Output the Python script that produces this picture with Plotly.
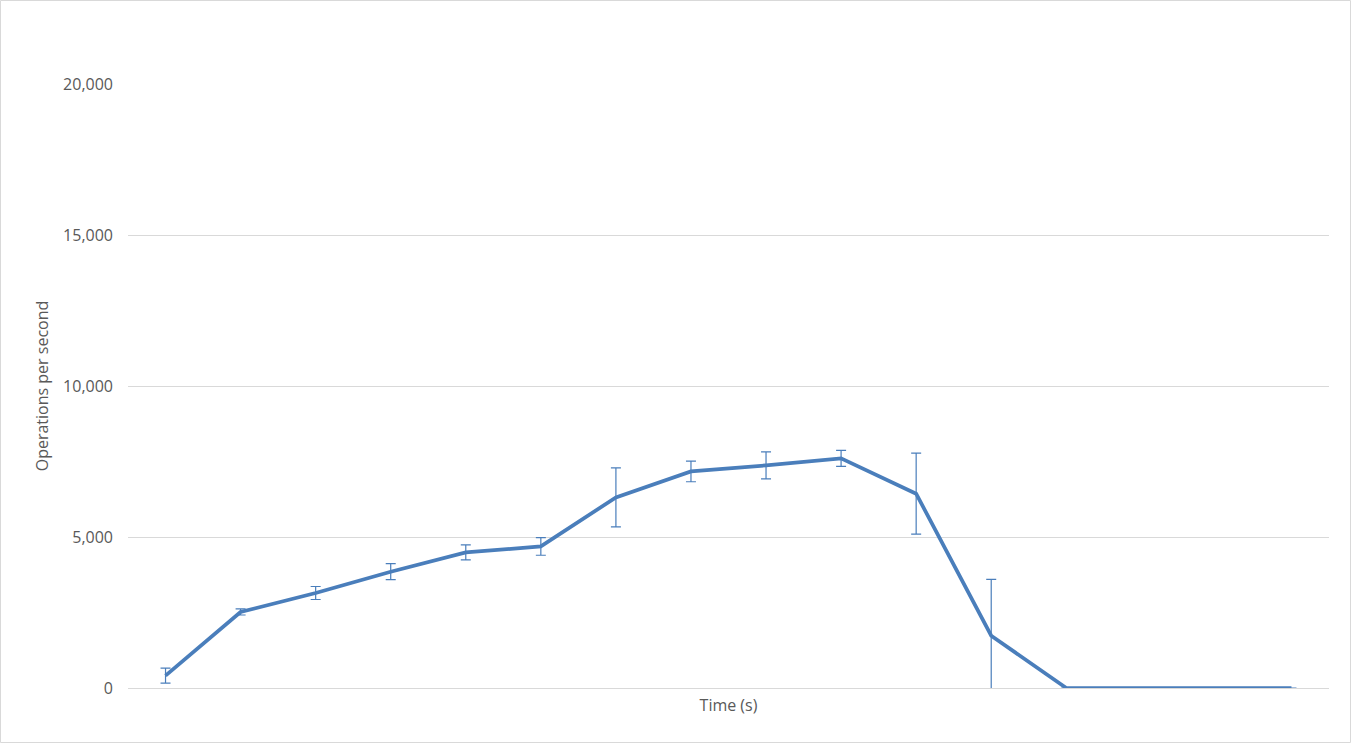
import plotly.graph_objects as go

# Data
time_s = [1, 2, 3, 4, 5, 6, 7, 8, 9, 10, 11, 12, 13, 14, 15, 16]
ops_per_sec = [410, 2517, 3146, 3851, 4490, 4689, 6311, 7172, 7371, 7603, 6434, 1732, 0, 0, 0, 0]
ops_err = [250, 100, 215, 265, 248, 293, 977, 342, 447, 265, 1341, 1864, 0, 0, 0, 0]
y_ticks = [0, 5000, 10000, 15000, 20000]

BLUE = "#4A7EBB"
GRID = "#D9D9D9"
TEXT = "#595959"

W, H = 1352, 744
ml, mr, mt, mb = 128, 23, 84, 56

fig = go.Figure()
fig.add_trace(go.Scatter(
    x=time_s, y=ops_per_sec, mode="lines",
    line=dict(color=BLUE, width=3.75),
    error_y=dict(type="data", array=ops_err, visible=True,
                 color=BLUE, thickness=1.2, width=5),
    showlegend=False, hoverinfo="x+y",
))

pw = W - ml - mr
ph = H - mt - mb
fig.add_shape(type="rect", xref="paper", yref="paper",
              x0=(0.5 - ml) / pw, x1=(W - 1.5 - ml) / pw,
              y0=(H - mb - (H - 1.5)) / ph, y1=(H - mb - 0.5) / ph,
              line=dict(color=GRID, width=1), layer="below")

fig.update_layout(
    width=W, height=H,
    margin=dict(l=ml, r=mr, t=mt, b=mb),
    paper_bgcolor="white", plot_bgcolor="white",
    font=dict(family="Open Sans, Liberation Sans, sans-serif", color=TEXT, size=16),
    xaxis=dict(range=[0.5, 16.5], showticklabels=False, showgrid=False,
               zeroline=False, showline=False, ticks="",
               title=dict(text="Time (s)", font=dict(size=16, color=TEXT), standoff=11)),
    yaxis=dict(range=[0, 20000], tickvals=y_ticks, tickformat=",d",
               showgrid=True, gridcolor=GRID, gridwidth=1,
               zeroline=True, zerolinecolor=GRID, zerolinewidth=1,
               showline=False, ticks="", ticklabelstandoff=14,
               tickfont=dict(size=16, color=TEXT),
               title=dict(text="Operations per second", font=dict(size=16, color=TEXT), standoff=10)),
)

fig.write_html("out.html", config={"displayModeBar": False},
               post_script="document.body.style.margin='0';document.body.style.overflow='hidden';")
